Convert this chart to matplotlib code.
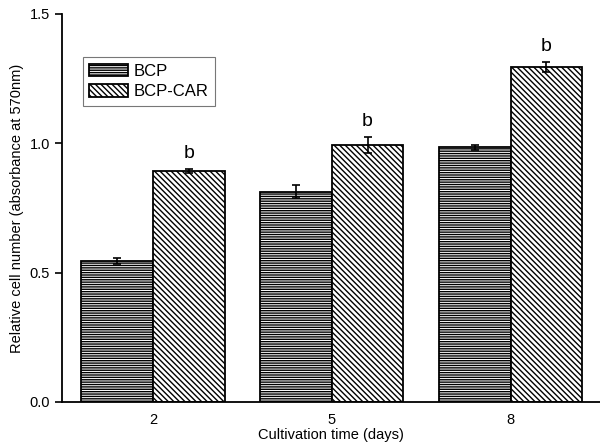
import matplotlib
matplotlib.use('Agg')
import matplotlib.pyplot as plt
import numpy as np

plt.rcParams['font.family'] = ['Liberation Sans', 'DejaVu Sans']
plt.rcParams['hatch.color'] = '#333333'
plt.rcParams['hatch.linewidth'] = 1.0

days = ['2', '5', '8']
bcp = [0.545, 0.812, 0.985]
bcp_err = [0.012, 0.025, 0.010]
bcp_car = [0.893, 0.993, 1.295]
bcp_car_err = [0.006, 0.030, 0.018]
marks = ['b', 'b', 'b']

x = np.arange(len(days))
w = 0.4

fig = plt.figure(figsize=(6, 4.47), dpi=100)
ax = fig.add_axes([0.103, 0.1007, 0.897, 0.868])

ax.bar(x - w / 2, bcp, w, yerr=bcp_err, color='white', edgecolor='black',
       hatch='-------', linewidth=1.3, label='BCP',
       error_kw=dict(ecolor='black', capsize=3, elinewidth=1.2, capthick=1.2))
ax.bar(x + w / 2, bcp_car, w, yerr=bcp_car_err, color='white', edgecolor='black',
       hatch='\\\\\\\\\\\\', linewidth=1.3, label='BCP-CAR',
       error_kw=dict(ecolor='black', capsize=3, elinewidth=1.2, capthick=1.2))

# significance letters
for xi, v, e, m in zip(x, bcp_car, bcp_car_err, marks):
    ax.text(xi + w / 2, v + e + 0.03, m, ha='center', va='bottom', fontsize=14)

ax.set_xlim(-0.51, 2.5)
ax.set_ylim(0, 1.5)
ax.set_xticks(x)
ax.set_xticklabels(days)
ax.set_yticks([0.0, 0.5, 1.0, 1.5])
ax.set_yticklabels(['0.0', '0.5', '1.0', '1.5'])
ax.tick_params(direction='out', labelsize=10.5, width=1.2, length=5)
ax.tick_params(axis='x', length=0, pad=8)

for s in ['top', 'right']:
    ax.spines[s].set_visible(False)
for s in ['left', 'bottom']:
    ax.spines[s].set_linewidth(1.3)

ax.set_xlabel('Cultivation time (days)', fontsize=10.5, labelpad=1)
ax.set_ylabel('Relative cell number (absorbance at 570nm)', fontsize=10.5)

leg = ax.legend(loc='upper left', bbox_to_anchor=(0.039, 0.889), fontsize=12,
                frameon=True, fancybox=False, edgecolor='#555555',
                handlelength=2.3, handleheight=0.8, handletextpad=0.35,
                borderpad=0.4, labelspacing=0.3, borderaxespad=0)
leg.get_frame().set_linewidth(0.8)

fig.savefig('out.png', dpi=100)
